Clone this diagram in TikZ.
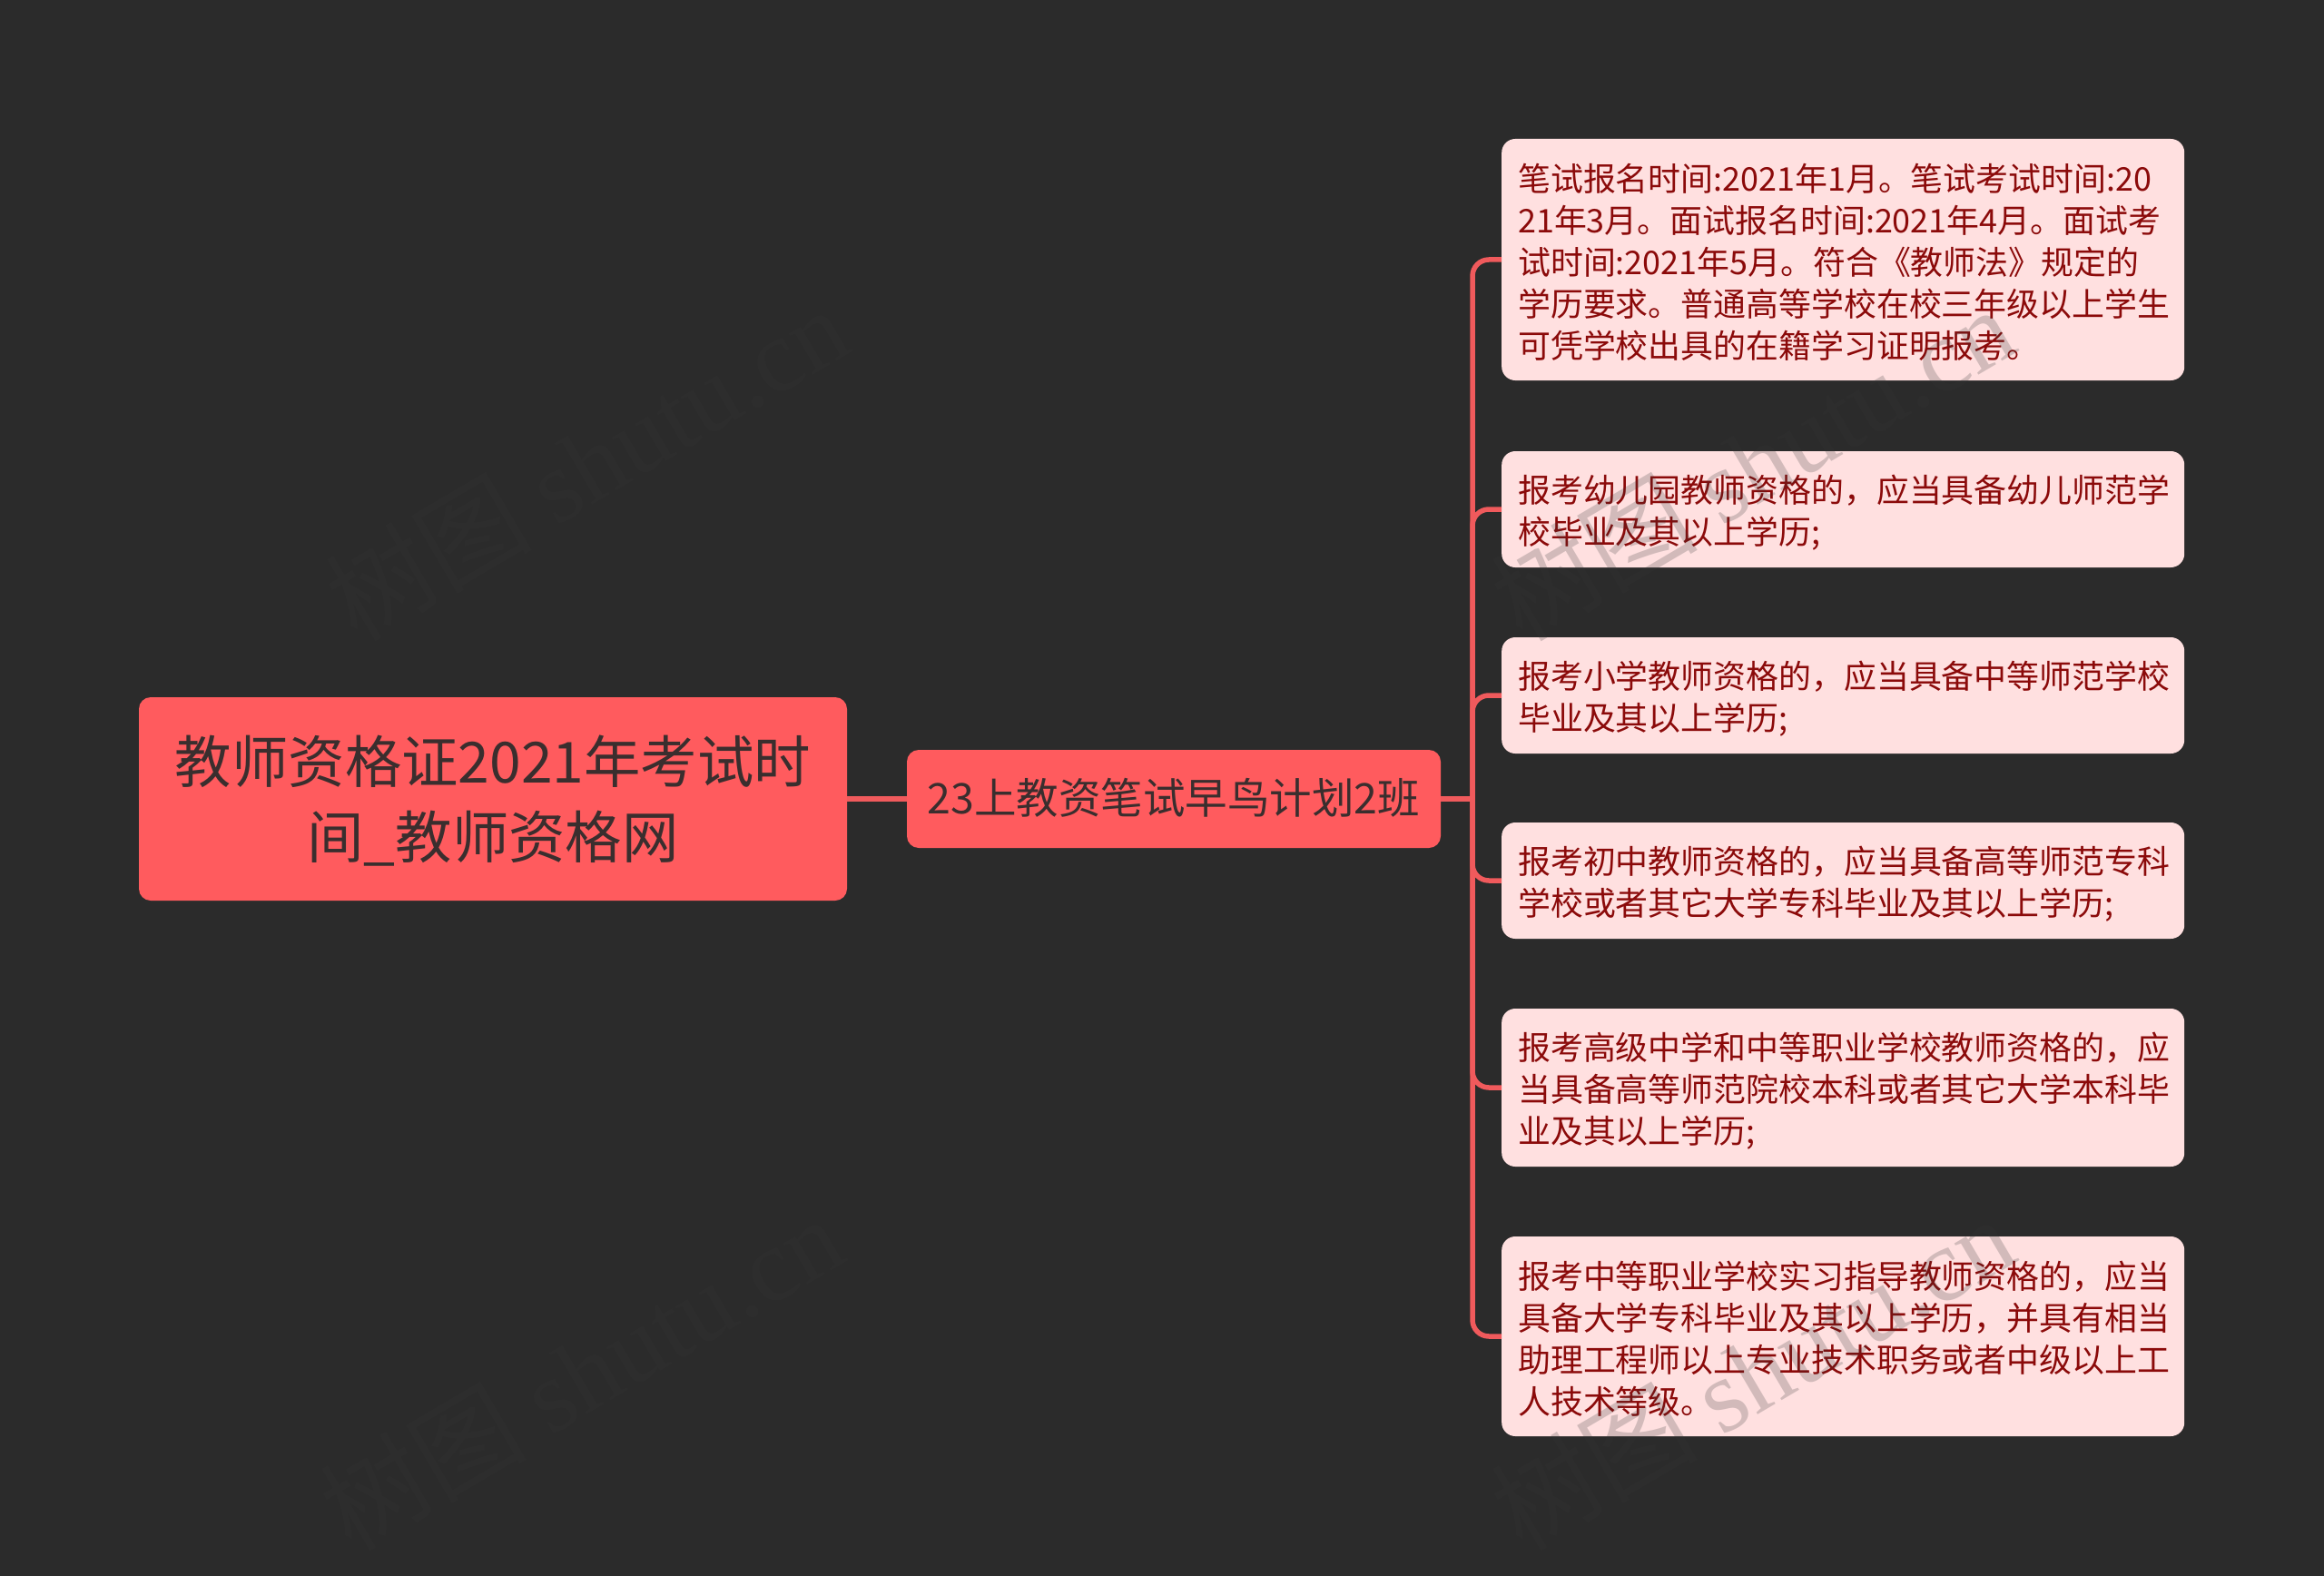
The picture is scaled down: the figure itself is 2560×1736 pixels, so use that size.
\documentclass[tikz,border=0pt]{standalone}
\usepackage{fontspec}
\setmainfont{Noto Sans CJK SC}
\newfontfamily\wmlatin{Liberation Serif}
\definecolor{bgc}{HTML}{2B2B2B}
\definecolor{rootc}{HTML}{FF5B5E}
\definecolor{roottext}{HTML}{3A2E2E}
\definecolor{leafc}{HTML}{FFE0E0}
\definecolor{leaftext}{HTML}{8B0A0A}
\definecolor{linkc}{HTML}{F05A5C}
\definecolor{wmc}{HTML}{363636}
\newcommand{\leaftxt}[1]{\raisebox{-3.2pt}[\height][\depth]{\parbox[c]{716pt}{\raggedright #1}}}
\newcommand{\roottxt}[1]{\raisebox{-2.5pt}[\height][\depth]{\parbox[c]{780pt}{\centering #1}}}
\newcommand{\branchtxt}[1]{\raisebox{1.5pt}[\height][\depth]{#1}}
\tikzset{
  rootbox/.style={rectangle,rounded corners=13pt,fill=rootc,text=roottext,inner sep=0pt,
    minimum width=780pt,minimum height=224pt,font=\fontsize{62.4}{83}\selectfont},
  branchbox/.style={rectangle,rounded corners=13pt,fill=rootc,text=roottext,inner sep=0pt,
    minimum width=588pt,minimum height=108pt,font=\fontsize{46.5}{60}\selectfont},
  leafbox/.style={rectangle,rounded corners=15pt,fill=leafc,text=leaftext,anchor=west,
    inner xsep=18pt,inner ysep=0pt,minimum width=752pt,font=\fontsize{35.9}{46}\selectfont},
  linkline/.style={draw=linkc,line width=5.5pt},
  bentlink/.style={linkline,rounded corners=18pt},
  wm/.style={text=wmc,text opacity=.22,rotate=30.5,inner sep=0pt,font=\fontsize{114}{120}\selectfont}
}
\begin{document}
\begin{tikzpicture}[x=1pt,y=-1pt]
\fill[bgc] (0,0) rectangle (2560,1736);
\useasboundingbox (0,0) rectangle (2560,1736);
\coordinate (trunk) at (1622,880);
\node[rootbox] (root) at (543,880) {\roottxt{教师资格证2021年考试时\\间\_教师资格网}};
\node[branchbox] (branch) at (1293,880) {\branchtxt{23上教资笔试早鸟计划2班}};
\node[leafbox,minimum height=266pt] (l1) at (1654,286) {\leaftxt{笔试报名时间:2021年1月。笔试考试时间:20\\21年3月。面试报名时间:2021年4月。面试考\\试时间:2021年5月。符合《教师法》规定的\\学历要求。普通高等学校在校三年级以上学生\\可凭学校出具的在籍学习证明报考。}};
\node[leafbox,minimum height=128pt] (l2) at (1654,561) {\leaftxt{报考幼儿园教师资格的，应当具备幼儿师范学\\校毕业及其以上学历;}};
\node[leafbox,minimum height=128pt] (l3) at (1654,766) {\leaftxt{报考小学教师资格的，应当具备中等师范学校\\毕业及其以上学历;}};
\node[leafbox,minimum height=128pt] (l4) at (1654,970) {\leaftxt{报考初中教师资格的，应当具备高等师范专科\\学校或者其它大学专科毕业及其以上学历;}};
\node[leafbox,minimum height=174pt] (l5) at (1654,1198) {\leaftxt{报考高级中学和中等职业学校教师资格的，应\\当具备高等师范院校本科或者其它大学本科毕\\业及其以上学历;}};
\node[leafbox,minimum height=220pt] (l6) at (1654,1472) {\leaftxt{报考中等职业学校实习指导教师资格的，应当\\具备大学专科毕业及其以上学历，并具有相当\\助理工程师以上专业技术职务或者中级以上工\\人技术等级。}};
\draw[linkline] (root.east) -- (branch.west);
\draw[linkline] (branch.east) -- (trunk);
\foreach \n in {l1,l2,l3,l4,l5,l6}{\draw[bentlink] (trunk) |- (\n.west);}
\node[wm] (w1) at (646,510) {树图 {\wmlatin shutu.cn}};
\node[wm] (w2) at (1930,510) {树图 {\wmlatin shutu.cn}};
\node[wm] (w3) at (640,1512) {树图 {\wmlatin shutu.cn}};
\node[wm] (w4) at (1930,1512) {树图 {\wmlatin shutu.cn}};
\end{tikzpicture}
\end{document}
